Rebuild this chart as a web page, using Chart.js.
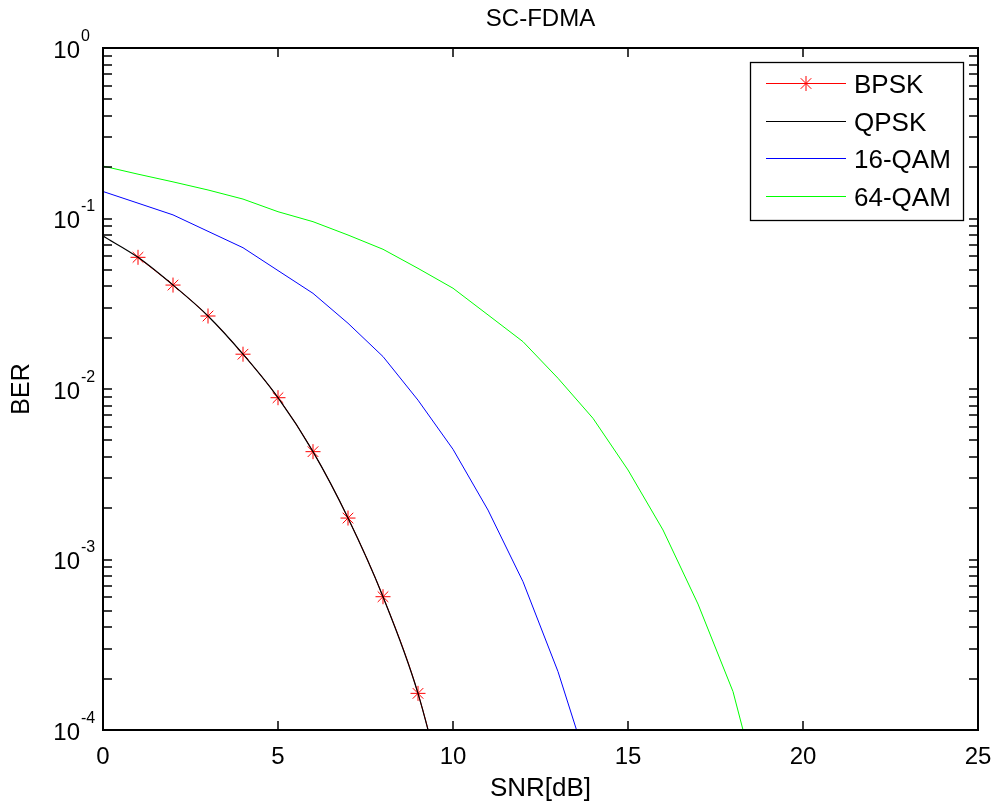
<!DOCTYPE html>
<html>
<head>
<meta charset="utf-8">
<script src="https://cdn.jsdelivr.net/npm/chart.js@4.4.1/dist/chart.umd.min.js"></script>
<style>html,body{margin:0;padding:0;background:#fff;}canvas{display:block;}</style>
</head>
<body>
<canvas id="c" width="993" height="802"></canvas>
<script>
// ---- data ----
const bpskSNR = [1, 2, 3, 4, 5, 6, 7, 8, 9, 10];
const bpskBER = [0.0592, 0.0407, 0.0268, 0.0160, 0.00889, 0.00429, 0.00175, 6.05e-4, 1.64e-4, 2.6e-5];

const qpskSNR = [0, 1, 2, 3, 4, 5, 6, 7, 8, 9, 10];
const qpskBER = [0.0789, 0.0592, 0.0407, 0.0268, 0.0160, 0.00889, 0.00429, 0.00175, 6.05e-4, 1.64e-4, 2.6e-5];

const qam16SNR = [0, 1, 2, 3, 4, 5, 6, 7, 8, 9, 10, 11, 12, 13, 14];
const qam16BER = [0.144, 0.123, 0.105, 0.0841, 0.0674, 0.0495, 0.0364, 0.0243, 0.0155, 0.0086, 0.00443, 0.00195, 7.41e-4, 2.20e-4, 4.97e-5];

const qam64SNR = [0, 1, 2, 3, 4, 5, 6, 7, 8, 9, 10, 11, 12, 13, 14, 15, 16, 17, 18, 19];
const qam64BER = [0.203, 0.182, 0.164, 0.147, 0.130, 0.1096, 0.0958, 0.080, 0.0660, 0.051, 0.039, 0.0272, 0.01895, 0.01156, 0.00673, 0.00335, 0.00149, 5.48e-4, 1.68e-4, 2.75e-5];

const seriesLabels = ['BPSK', 'QPSK', '16-QAM', '64-QAM'];
const xRange = [0, 25];
const xTickStep = 5;
const yRange = [1e-4, 1];
const yTickValues = [1, 1e-1, 1e-2, 1e-3, 1e-4];
const yTickExponents = ['0', '-1', '-2', '-3', '-4'];
const titleText = 'SC-FDMA';
const xTitle = 'SNR[dB]';
const yTitle = 'BER';

// ---- styling ----
const FONT = '"Liberation Sans", Arial, Helvetica, sans-serif';
Chart.defaults.font.family = FONT;
Chart.defaults.color = '#000';

function pts(xs, ys) { return xs.map((x, i) => ({ x: x, y: ys[i] })); }

function drawStar(ctx, x, y, r) {
  ctx.beginPath();
  ctx.moveTo(x - r, y); ctx.lineTo(x + r, y);
  ctx.moveTo(x, y - r); ctx.lineTo(x, y + r);
  const d = r * Math.SQRT1_2;
  ctx.moveTo(x - d, y - d); ctx.lineTo(x + d, y + d);
  ctx.moveTo(x - d, y + d); ctx.lineTo(x + d, y - d);
  ctx.stroke();
}

const framePlugin = {
  id: 'matlabFrame',
  afterDatasetsDraw(chart) {
    const ctx = chart.ctx;
    const a = chart.chartArea;
    const xs = chart.scales.x, ys = chart.scales.y;
    ctx.save();
    // axes box
    ctx.strokeStyle = '#000';
    ctx.lineWidth = 2;
    ctx.strokeRect(a.left, a.top, a.right - a.left, a.bottom - a.top);
    // x ticks (inward, bottom and top)
    const tl = 9;
    ctx.lineWidth = 1.5;
    ctx.beginPath();
    for (let v = xRange[0] + xTickStep; v < xRange[1]; v += xTickStep) {
      const px = Math.round(xs.getPixelForValue(v));
      ctx.moveTo(px, a.bottom); ctx.lineTo(px, a.bottom - tl);
      ctx.moveTo(px, a.top); ctx.lineTo(px, a.top + tl);
    }
    // y ticks (log, majors + minors), inward on left and right
    for (let e = Math.round(Math.log10(yRange[0])); e < Math.round(Math.log10(yRange[1])); e++) {
      for (let m = 1; m <= 9; m++) {
        const v = m * Math.pow(10, e);
        if (v <= yRange[0] || v >= yRange[1]) continue;
        const py = Math.round(ys.getPixelForValue(v));
        ctx.moveTo(a.left, py); ctx.lineTo(a.left + tl, py);
        ctx.moveTo(a.right, py); ctx.lineTo(a.right - tl, py);
      }
    }
    ctx.stroke();

    // y tick labels: 10 with superscript exponent
    ctx.fillStyle = '#000';
    yTickValues.forEach((v, i) => {
      const py = ys.getPixelForValue(v);
      ctx.font = '24px ' + FONT;
      ctx.textAlign = 'right';
      ctx.textBaseline = 'alphabetic';
      ctx.fillText('10', 80, py + 9.5);
      ctx.font = '16px ' + FONT;
      ctx.textAlign = 'left';
      ctx.fillText(yTickExponents[i], 81, py - 7.5);
    });

    // legend box
    const L = 750, T = 62, R = 963, B = 220;
    ctx.fillStyle = '#fff';
    ctx.fillRect(L, T, R - L, B - T);
    ctx.strokeStyle = '#000';
    ctx.lineWidth = 1.3;
    ctx.strokeRect(L + 0.5, T + 0.5, R - L, B - T);
    chart.data.datasets.forEach((ds, i) => {
      const ry = Math.round(83 + i * 37.6) + 0.5;
      ctx.strokeStyle = ds.borderColor;
      ctx.lineWidth = 1;
      ctx.beginPath();
      ctx.moveTo(766, ry); ctx.lineTo(846, ry);
      ctx.stroke();
      if (ds.pointRadius > 0) {
        ctx.strokeStyle = ds.pointBorderColor;
        drawStar(ctx, 806, ry, ds.pointRadius);
      }
      ctx.fillStyle = '#000';
      ctx.font = '26px ' + FONT;
      ctx.textAlign = 'left';
      ctx.textBaseline = 'middle';
      ctx.fillText(ds.label, 854, ry + 2);
    });
    ctx.restore();
  }
};

new Chart(document.getElementById('c'), {
  type: 'line',
  data: {
    datasets: [
      { label: seriesLabels[0], data: pts(bpskSNR, bpskBER), borderColor: '#ff0000', backgroundColor: '#ff0000',
        borderWidth: 1, pointStyle: 'star', pointRadius: 7.5, pointBorderColor: '#ff0000', pointBorderWidth: 1,
        pointBackgroundColor: '#ff0000', cubicInterpolationMode: 'monotone', order: 1 },
      { label: seriesLabels[1], data: pts(qpskSNR, qpskBER), borderColor: '#000000', backgroundColor: '#000000',
        borderWidth: 1.2, pointRadius: 0, cubicInterpolationMode: 'monotone', order: 0 },
      { label: seriesLabels[2], data: pts(qam16SNR, qam16BER), borderColor: '#0000ff', backgroundColor: '#0000ff',
        borderWidth: 1, pointRadius: 0, tension: 0, order: 2 },
      { label: seriesLabels[3], data: pts(qam64SNR, qam64BER), borderColor: '#00ff00', backgroundColor: '#00ff00',
        borderWidth: 1, pointRadius: 0, tension: 0, order: 3 }
    ]
  },
  options: {
    responsive: false,
    animation: false,
    devicePixelRatio: 1,
    events: [],
    layout: { padding: { left: 0, right: 15, top: 0, bottom: 0 } },
    plugins: {
      legend: { display: false },
      tooltip: { enabled: false },
      title: { display: true, fullSize: false, text: titleText, color: '#000',
        font: { family: FONT, size: 24, weight: 'normal', lineHeight: 1.2 },
        padding: { top: 5, bottom: 14.2 } }
    },
    scales: {
      x: {
        type: 'linear', min: xRange[0], max: xRange[1],
        ticks: { stepSize: xTickStep, color: '#000', font: { size: 24 }, padding: 13, maxRotation: 0, autoSkip: false },
        grid: { display: false, drawTicks: false },
        border: { display: false },
        title: { display: true, text: xTitle, color: '#000', font: { size: 26, lineHeight: 1 }, padding: { top: 0, bottom: 0 } },
        afterFit(s) { s.height = 72; s.paddingLeft = 0; s.paddingRight = 0; }
      },
      y: {
        type: 'logarithmic', min: yRange[0], max: yRange[1],
        ticks: { display: false },
        grid: { display: false, drawTicks: false },
        border: { display: false },
        title: { display: true, text: yTitle, color: '#000', font: { size: 25, lineHeight: 1 }, padding: { top: 10, bottom: 0 } },
        afterFit(s) { s.width = 103; s.paddingTop = 0; s.paddingBottom = 0; }
      }
    }
  },
  plugins: [framePlugin]
});
</script>
</body>
</html>
